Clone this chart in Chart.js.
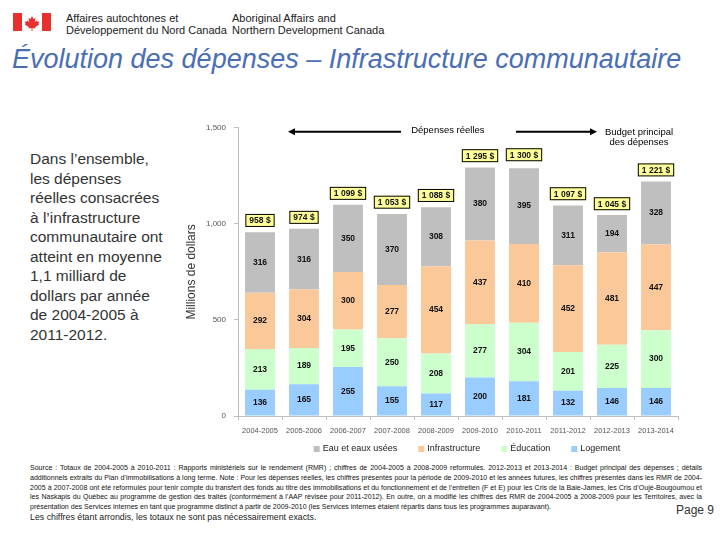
<!DOCTYPE html>
<html lang="fr">
<head>
<meta charset="utf-8">
<script src="https://cdn.jsdelivr.net/npm/chart.js@4"></script>
<style>
  body { margin: 0; width: 720px; height: 540px; background: #fff; position: relative; overflow: hidden; font-family: "Liberation Sans", Arial, sans-serif; }
  .flag { position: absolute; left: 13px; top: 13px; width: 38px; height: 18px; }
  .dept { position: absolute; top: 12px; font-size: 11px; line-height: 12px; color: #222; }
  h1 { position: absolute; left: 12px; top: 44px; margin: 0; font-size: 27px; font-style: italic; font-weight: normal; color: #4a6eb5; white-space: nowrap; }
  .intro { position: absolute; left: 30px; top: 149px; font-size: 15.5px; line-height: 19.5px; color: #333; white-space: nowrap; }
  #wrap { position: absolute; left: 180px; top: 115px; width: 540px; height: 345px; }
  .source { position: absolute; left: 30px; top: 463px; width: 672px; font-size: 7.05px; line-height: 9.8px; color: #111; text-align: justify; }
  .note { position: absolute; left: 30px; top: 512px; font-size: 8.8px; color: #222; }
  .page { position: absolute; left: 676px; top: 503px; font-size: 12px; color: #333; }
</style>
</head>
<body>
<svg class="flag" viewBox="0 0 38 18">
  <rect x="0" y="0" width="9" height="18" fill="#e8312f"/>
  <rect x="29" y="0" width="9" height="18" fill="#e8312f"/>
  <path d="M19 3 l1.5 3 l2-1 l-0.7 4 l2-1.5 l0.6 1.3 l2-0.3 l-1 2.4 l1 0.6 l-4.2 2.6 l0.3 1.3 l-3-0.4 v3 h-1 v-3 l-3 0.4 l0.3-1.3 l-4.2-2.6 l1-0.6 l-1-2.4 l2 0.3 l0.6-1.3 l2 1.5 l-0.7-4 l2 1z" fill="#e8312f"/>
</svg>
<div class="dept" style="left:66px">Affaires autochtones et<br>Développement du Nord Canada</div>
<div class="dept" style="left:232px">Aboriginal Affairs and<br>Northern Development Canada</div>
<h1>Évolution des dépenses – Infrastructure communautaire</h1>
<div class="intro">Dans l’ensemble,<br>les dépenses<br>réelles consacrées<br>à l’infrastructure<br>communautaire ont<br>atteint en moyenne<br>1,1 milliard de<br>dollars par année<br>de 2004-2005 à<br>2011-2012.</div>
<div id="wrap"><canvas id="chart"></canvas></div>
<div class="source">Source : Totaux de 2004-2005 à 2010-2011 : Rapports ministériels sur le rendement (RMR) ; chiffres de 2004-2005 à 2008-2009 reformulés. 2012-2013 et 2013-2014 : Budget principal des dépenses ; détails additionnels extraits du Plan d’immobilisations à long terme. Note : Pour les dépenses réelles, les chiffres présentés pour la période de 2009-2010 et les années futures, les chiffres présentés dans les RMR de 2004-2005 à 2007-2008 ont été reformulés pour tenir compte du transfert des fonds au titre des immobilisations et du fonctionnement et de l’entretien (F et E) pour les Cris de la Baie-James, les Cris d’Oujé-Bougoumou et les Naskapis du Québec au programme de gestion des traités (conformément à l’AAP révisée pour 2011-2012). En outre, on a modifié les chiffres des RMR de 2004-2005 à 2008-2009 pour les Territoires, avec la présentation des Services internes en tant que programme distinct à partir de 2009-2010 (les Services internes étaient répartis dans tous les programmes auparavant).</div>
<div class="note">Les chiffres étant arrondis, les totaux ne sont pas nécessairement exacts.</div>
<div class="page">Page 9</div>
<script>
// données (millions de dollars)
const years = ['2004-2005', '2005-2006', '2006-2007', '2007-2008', '2008-2009', '2009-2010', '2010-2011', '2011-2012', '2012-2013', '2013-2014'];
const logement = [136, 165, 255, 155, 117, 200, 181, 132, 146, 146];
const education = [213, 189, 195, 250, 208, 277, 304, 201, 225, 300];
const infrastructure = [292, 304, 300, 277, 454, 437, 410, 452, 481, 447];
const eau = [316, 316, 350, 370, 308, 380, 395, 311, 194, 328];
const totals = [958, 974, 1099, 1053, 1088, 1295, 1300, 1097, 1045, 1221];
const yTicks = [0, 500, 1000, 1500];

const colors = {
  eau: '#bfbfbf',
  infra: '#fbc89a',
  edu: '#ccffcc',
  log: '#99ccff',
  axis: '#bfbfbf',
  tick: '#555'
};

const FONT = '"Liberation Sans", Arial, sans-serif';
const fmtTotal = v => v.toLocaleString('en-US').replace(',', ' ') + ' $';

// chiffres dans les segments + totaux dans les boîtes jaunes
const labelsPlugin = {
  id: 'labels',
  afterDatasetsDraw(chart) {
    const ctx = chart.ctx;
    ctx.save();
    ctx.textAlign = 'center';
    ctx.textBaseline = 'middle';
    ctx.font = 'bold 8.5px ' + FONT;
    ctx.fillStyle = '#111';
    chart.data.datasets.forEach((ds, i) => {
      chart.getDatasetMeta(i).data.forEach((bar, j) => {
        ctx.fillText(ds.data[j], bar.x, (bar.y + bar.base) / 2);
      });
    });
    // totaux
    chart.getDatasetMeta(chart.data.datasets.length - 1).data.forEach((bar, j) => {
      const txt = fmtTotal(totals[j]);
      const w = ctx.measureText(txt).width + 8;
      const h = 13;
      const x = bar.x - w / 2;
      const y = chart.scales.y.getPixelForValue(totals[j]) - 5 - h;
      ctx.fillStyle = '#ffff99';
      ctx.fillRect(x, y, w, h);
      ctx.strokeStyle = '#000';
      ctx.lineWidth = 1;
      ctx.strokeRect(x + 0.5, y + 0.5, w - 1, h - 1);
      ctx.fillStyle = '#111';
      ctx.fillText(txt, bar.x, y + h / 2 + 0.5);
    });
    ctx.restore();
  }
};

// flèches « Dépenses réelles » / « Budget principal des dépenses »
const arrowsPlugin = {
  id: 'arrows',
  afterDraw(chart) {
    const ctx = chart.ctx;
    const xs = chart.scales.x;
    const y = chart.chartArea.top + 4;
    ctx.save();
    ctx.strokeStyle = '#000';
    ctx.fillStyle = '#000';
    ctx.lineWidth = 2;
    // flèche gauche
    const l1 = xs.getPixelForValue(0) + 28, l2 = xs.getPixelForValue(3) + 9;
    ctx.beginPath(); ctx.moveTo(l2, y); ctx.lineTo(l1 + 5, y); ctx.stroke();
    ctx.beginPath(); ctx.moveTo(l1, y); ctx.lineTo(l1 + 7, y - 3.5); ctx.lineTo(l1 + 7, y + 3.5); ctx.closePath(); ctx.fill();
    // flèche droite
    const r1 = xs.getPixelForValue(6) - 8, r2 = xs.getPixelForValue(8) - 15;
    ctx.beginPath(); ctx.moveTo(r1, y); ctx.lineTo(r2 - 5, y); ctx.stroke();
    ctx.beginPath(); ctx.moveTo(r2, y); ctx.lineTo(r2 - 7, y - 3.5); ctx.lineTo(r2 - 7, y + 3.5); ctx.closePath(); ctx.fill();
    ctx.font = '9.5px ' + FONT;
    ctx.textAlign = 'center';
    ctx.textBaseline = 'middle';
    ctx.fillText('Dépenses réelles', xs.getPixelForValue(4.27), y - 1);
    ctx.fillText('Budget principal', xs.getPixelForValue(8.5) + 5, y + 1);
    ctx.fillText('des dépenses', xs.getPixelForValue(8.5) + 5, y + 11);
    ctx.restore();
  }
};

// légende sous l'axe (ordre inverse des séries)
const legendPlugin = {
  id: 'customLegend',
  afterDraw(chart) {
    const ctx = chart.ctx;
    const area = chart.chartArea;
    const items = chart.data.datasets.slice().reverse();
    const gap = 21, box = 6;
    ctx.save();
    ctx.font = '9px ' + FONT;
    ctx.textBaseline = 'middle';
    const widths = items.map(ds => box + 3 + ctx.measureText(ds.label).width);
    const total = widths.reduce((a, b) => a + b, 0) + gap * (items.length - 1);
    let x = (area.left + area.right) / 2 + 9 - total / 2;
    const y = area.bottom + 33;
    items.forEach((ds, i) => {
      ctx.fillStyle = ds.backgroundColor;
      ctx.fillRect(x, y - box / 2, box, box);
      ctx.fillStyle = '#222';
      ctx.fillText(ds.label, x + box + 3, y);
      x += widths[i] + gap;
    });
    ctx.restore();
  }
};

const chart = new Chart(document.getElementById('chart'), {
  type: 'bar',
  data: {
    labels: years,
    datasets: [
      { label: 'Logement', data: logement, backgroundColor: colors.log },
      { label: 'Éducation', data: education, backgroundColor: colors.edu },
      { label: 'Infrastructure', data: infrastructure, backgroundColor: colors.infra },
      { label: 'Eau et eaux usées', data: eau, backgroundColor: colors.eau }
    ]
  },
  options: {
    responsive: true,
    maintainAspectRatio: false,
    animation: false,
    layout: { padding: { top: 10, right: 42, left: 0, bottom: 24 } },
    datasets: { bar: { categoryPercentage: 0.68, barPercentage: 1.0 } },
    plugins: {
      legend: { display: false },
      tooltip: { enabled: false }
    },
    scales: {
      x: {
        stacked: true,
        afterFit: axis => { axis.height = 20; },
        grid: { display: true, drawOnChartArea: false, offset: true, color: colors.axis, tickLength: 4 },
        border: { color: colors.axis },
        ticks: { color: colors.tick, maxRotation: 0, font: { size: 7.5 }, padding: 6 }
      },
      y: {
        stacked: true,
        min: 0,
        max: 1500,
        afterBuildTicks: axis => { axis.ticks = yTicks.map(v => ({ value: v })); },
        afterFit: axis => { axis.width = 58; },
        grid: { display: true, drawOnChartArea: false, color: colors.axis, tickLength: 4 },
        border: { color: colors.axis },
        ticks: { color: colors.tick, font: { size: 8 }, padding: 8, callback: v => v.toLocaleString('en-US') },
        title: { display: true, text: 'Millions de dollars', color: '#333', font: { size: 12 }, padding: { bottom: 4 } }
      }
    }
  },
  plugins: [labelsPlugin, arrowsPlugin, legendPlugin]
});
</script>
</body>
</html>
